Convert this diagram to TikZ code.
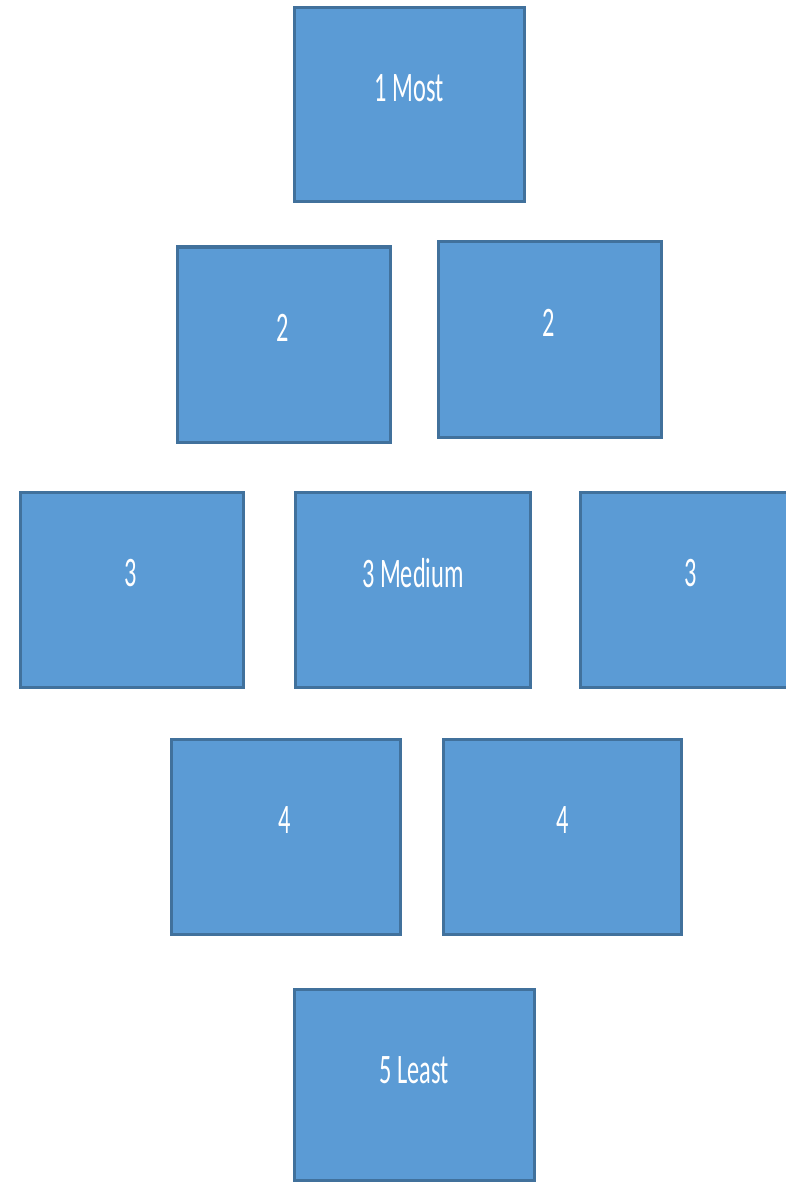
\documentclass[tikz,border=0pt]{standalone}
\usepackage{fontspec}
\setmainfont{Carlito}
\definecolor{boxfill}{HTML}{5B9BD5}
\definecolor{boxline}{HTML}{41719C}
\tikzset{
  blockbox/.style={draw=boxline, fill=boxfill, line width=3pt, rectangle, inner sep=0pt},
  blocklabel/.style={text=white, inner sep=0pt, font=\fontsize{42}{48}\selectfont, xscale=0.58}
}
\begin{document}
\begin{tikzpicture}[x=1pt,y=-1pt]
\useasboundingbox (0,0) rectangle (786,1182);
\clip (0,0) rectangle (786,1182);
% boxes
\draw[blockbox] (294,8) rectangle (524,202) node[pos=0.5] (b1) {};
\draw[blockbox] (177,247) rectangle (390,442) node[pos=0.5] (b2a) {};
\draw[blockbox] (438,242) rectangle (661,437) node[pos=0.5] (b2b) {};
\draw[blockbox] (20,492) rectangle (243,687) node[pos=0.5] (b3a) {};
\draw[blockbox] (295,492) rectangle (530,687) node[pos=0.5] (b3b) {};
\draw[blockbox] (580,492) rectangle (802,687) node[pos=0.5] (b3c) {};
\draw[blockbox] (171,739) rectangle (400,934) node[pos=0.5] (b4a) {};
\draw[blockbox] (443,739) rectangle (681,934) node[pos=0.5] (b4b) {};
\draw[blockbox] (294,989) rectangle (534,1180) node[pos=0.5] (b5) {};
% labels
\node[blocklabel] (t1) at (409,88) {1 Most};
\node[blocklabel] (t2a) at (283,328) {2};
\node[blocklabel] (t2b) at (549,323) {2};
\node[blocklabel] (t3a) at (131,573) {3};
\node[blocklabel] (t3b) at (413,573) {3 Medium};
\node[blocklabel] (t3c) at (691,573) {3};
\node[blocklabel] (t4a) at (285,820) {4};
\node[blocklabel] (t4b) at (563,820) {4};
\node[blocklabel] (t5) at (414,1070) {5 Least};
\end{tikzpicture}
\end{document}
